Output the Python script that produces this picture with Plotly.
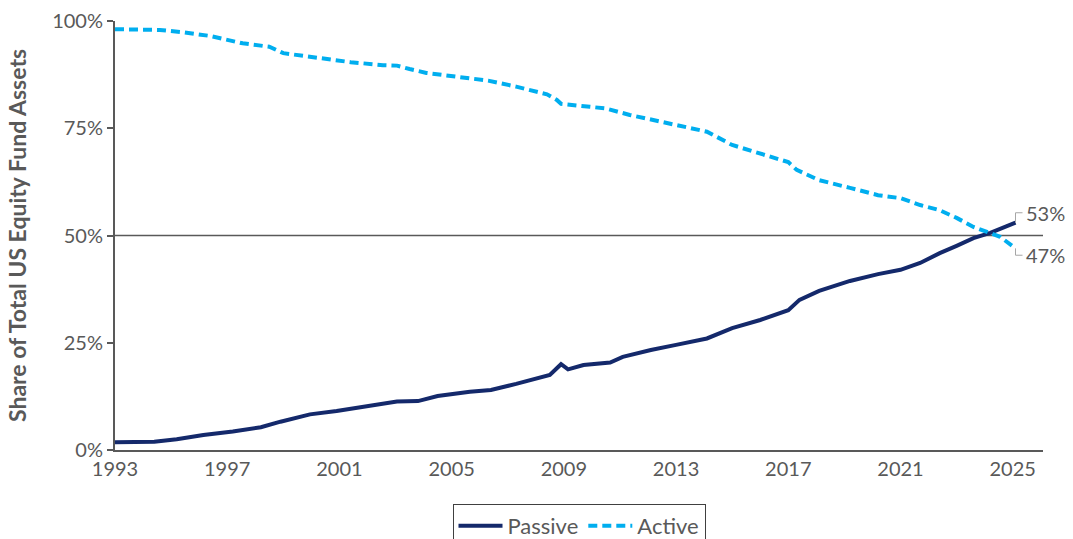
import plotly.graph_objects as go

# ---- data (decimal years, % share of total US equity fund assets) ----
passive_years = [1993.0, 1994.4, 1995.2, 1996.15, 1997.2, 1998.2, 1998.9, 1999.95, 2000.9, 2001.98,
                 2003.05, 2003.8, 2004.5, 2005.65, 2006.4, 2007.3, 2008.5, 2008.9, 2009.15, 2009.7,
                 2010.65, 2011.1, 2012.1, 2013.0, 2014.1, 2015.0, 2016.0, 2017.0, 2017.4, 2018.1,
                 2019.2, 2020.2, 2021.0, 2021.7, 2022.4, 2023.0, 2023.6, 2024.2, 2025.1]
passive_vals = [1.8, 1.9, 2.5, 3.5, 4.3, 5.3, 6.6, 8.3, 9.1, 10.3,
                11.3, 11.4, 12.6, 13.6, 14.0, 15.4, 17.5, 20.0, 18.8, 19.8,
                20.4, 21.7, 23.3, 24.5, 26.0, 28.4, 30.3, 32.6, 35.0, 37.1,
                39.4, 41.0, 42.0, 43.6, 45.9, 47.6, 49.4, 50.6, 53.0]

active_years = [1993.0, 1994.6, 1995.4, 1996.4, 1997.55, 1998.5, 1999.0, 2000.2, 2001.4, 2002.55,
                2003.05, 2003.5, 2004.1, 2005.2, 2006.3, 2007.3, 2008.4, 2008.75, 2008.9, 2009.93,
                2010.5, 2011.35, 2012.5, 2013.6, 2014.1, 2015.0, 2016.0, 2017.0, 2017.3, 2018.1,
                2019.2, 2020.2, 2021.0, 2021.7, 2022.4, 2023.0, 2023.6, 2024.2, 2024.55, 2025.1]
active_vals = [98.1, 97.9, 97.4, 96.5, 94.8, 94.0, 92.5, 91.5, 90.4, 89.7,
               89.6, 88.8, 87.9, 87.0, 86.1, 84.7, 82.9, 81.6, 80.7, 80.0,
               79.6, 78.1, 76.5, 75.0, 74.2, 71.1, 69.2, 67.1, 65.3, 62.9,
               61.1, 59.4, 58.7, 57.1, 55.9, 54.1, 52.0, 50.6, 49.7, 47.0]

x_tick_vals = [1993, 1997, 2001, 2005, 2009, 2013, 2017, 2021, 2025]
x_tick_text = ["1993", "1997", "2001", "2005", "2009", "2013", "2017", "2021", "2025"]
y_tick_vals = [0, 25, 50, 75, 100]
y_tick_text = ["0%", "25%", "50%", "75%", "100%"]
end_labels = ["53%", "47%"]

NAVY = "#14296b"
SKY = "#00aeef"
GRAY = "#595959"
FONT = "Lato"

fig = go.Figure()
fig.add_trace(go.Scatter(x=passive_years, y=passive_vals, mode="lines", name="Passive",
                         line=dict(color=NAVY, width=4)))
fig.add_trace(go.Scatter(x=active_years, y=active_vals, mode="lines", name="Active",
                         line=dict(color=SKY, width=4, dash="9px,5px")))

# 50% reference line
fig.add_shape(type="line", xref="paper", yref="y", x0=0, x1=1, y0=50, y1=50,
              line=dict(color=GRAY, width=1.5), layer="below")

# end labels with elbow leaders
lx_p, ly_p = passive_years[-1], passive_vals[-1]
lx_a, ly_a = active_years[-1], active_vals[-1]
leader = dict(color="#a6a6a6", width=1)
fig.add_shape(type="path", xref="x", yref="y",
              path=f"M {lx_p},{ly_p} L {lx_p},{ly_p + 2.3} L {lx_p + 0.25},{ly_p + 2.3}", line=leader)
fig.add_shape(type="path", xref="x", yref="y",
              path=f"M {lx_a},{ly_a} L {lx_a},{ly_a - 1.6} L {lx_a + 0.25},{ly_a - 1.6}", line=leader)
fig.add_annotation(x=lx_p + 0.3, y=ly_p + 2.3, text=end_labels[0], showarrow=False,
                   xanchor="left", yanchor="middle", font=dict(family=FONT, size=20, color=GRAY))
fig.add_annotation(x=lx_a + 0.3, y=ly_a - 1.6, text=end_labels[1], showarrow=False,
                   xanchor="left", yanchor="middle", font=dict(family=FONT, size=20, color=GRAY))

fig.update_layout(
    width=1073, height=539,
    margin=dict(l=115, r=30, t=21, b=89, autoexpand=False),
    paper_bgcolor="white", plot_bgcolor="white",
    font=dict(family=FONT, size=19, color=GRAY),
    showlegend=True,
    legend=dict(orientation="h", x=0.5, xanchor="center", xref="paper",
                y=1 - 504 / 539, yanchor="top", yref="container",
                bordercolor="#404040", borderwidth=1, font=dict(family=FONT, size=22, color=GRAY),
                itemwidth=44, tracegroupgap=0),
    xaxis=dict(range=[1993, 2026.08], tickvals=x_tick_vals, ticktext=x_tick_text,
               showgrid=False, zeroline=False, showline=True, linecolor=GRAY, linewidth=2,
               ticks="", tickfont=dict(family=FONT, size=20, color=GRAY)),
    yaxis=dict(range=[0, 100], tickvals=y_tick_vals, ticktext=y_tick_text,
               showgrid=False, zeroline=False, showline=True, linecolor=GRAY, linewidth=2,
               ticks="outside", ticklen=6, tickwidth=2, tickcolor=GRAY,
               tickfont=dict(family=FONT, size=20, color=GRAY),
               title=dict(text="<b>Share of Total US Equity Fund Assets</b>",
                          font=dict(family=FONT, size=23, color=GRAY), standoff=19)),
)

fig.write_html("out.html")
